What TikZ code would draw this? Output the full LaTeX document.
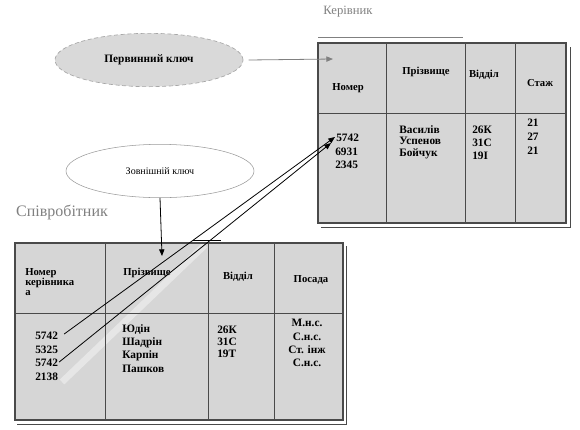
\documentclass[tikz,border=0pt]{standalone}
\usepackage{fontspec}
\setmainfont{Liberation Serif}
\usetikzlibrary{positioning, calc, arrows.meta, shapes.geometric}
\definecolor{Cell}{HTML}{D6D6D6}
\definecolor{Rule}{HTML}{4A4A4A}
\definecolor{Caption}{HTML}{808080}
\definecolor{KeyFill}{HTML}{D9D9D9}
\definecolor{Stripe}{HTML}{E6E6E6}
\tikzset{
    tablebox/.style={draw=Rule, line width=1.3pt},
    gridline/.style={draw=Rule, line width=0.6pt},
    celltext/.style={font=\bfseries\fontsize{8.5}{10}\selectfont, align=left, inner sep=0pt},
    headtext/.style={celltext, align=center, font=\bfseries\fontsize{8}{9.5}\selectfont},
    keynode/.style={ellipse, minimum width=141pt, minimum height=40pt, inner sep=0pt},
    caption/.style={text=Caption, inner sep=0pt},
    linkarrow/.style={-{Triangle[length=5pt, width=4pt]}, line width=0.6pt},
}

\begin{document}
\begin{tikzpicture}[x=0.75pt, y=-0.75pt]
    \useasboundingbox (0,0) rectangle (580,429);

    % Ключі
    \node[keynode, fill=KeyFill, draw=gray!70, line width=0.5pt, densely dashed, font=\bfseries\fontsize{8.5}{10}\selectfont] (pk) at (149,60) {Первинний ключ};
    \node[keynode, draw=gray!80, line width=0.4pt, font=\fontsize{7.5}{9}\selectfont] (fk) at (160,171) {Зовнішній ключ};

    % Підписи таблиць
    \node[caption, font=\fontsize{9.5}{11}\selectfont] (mgrTitle) at (348,12) {Керівник};
    \node[caption, font=\fontsize{12}{14}\selectfont] (empTitle) at (62,212) {Співробітник};

    % Таблиця "Керівник"
    \fill[Cell] (318,43) rectangle (566,223);
    \draw[gridline] (318,113) -- (566,113);
    \foreach \x in {386,465,515} \draw[gridline] (\x,43) -- (\x,223);
    \draw[tablebox] (318,43) rectangle (566,223);
    \draw[Rule, line width=0.6pt] (321,227) -- (570,227) -- (570,47);
    \draw[Caption, line width=0.5pt] (318,37) -- (463,37);

    \node[headtext] (mgrH1) at (348,88) {Номер};
    \node[headtext] (mgrH2) at (426,72) {Прізвище};
    \node[headtext] (mgrH3) at (484,75) {Відділ};
    \node[headtext] (mgrH4) at (540,83) {Стаж};

    \node[celltext, anchor=west] (mgrA) at (336,138) {5742};
    \node[celltext, anchor=west] (mgrB) at (335,152) {6931};
    \node[celltext, anchor=west] (mgrC) at (335,165) {2345};
    \node[celltext, anchor=north west, font=\bfseries\fontsize{8.5}{8.8}\selectfont] (mgrNames) at (399,125) {Василів\\Успенов\\Бойчук};
    \node[celltext, anchor=north west, font=\bfseries\fontsize{8.5}{9.6}\selectfont] (mgrDept) at (472,126) {26К\\31С\\19І};
    \node[celltext, anchor=north west, font=\bfseries\fontsize{8.5}{10.5}\selectfont] (mgrYears) at (527,119) {21\\27\\21};

    % Таблиця "Співробітник"
    \fill[Cell] (15,243) rectangle (343,420);
    \draw[Stripe, line width=5pt] (205,245) -- (62,382);
    \draw[gridline] (15,313) -- (343,313);
    \foreach \x in {105,208,274} \draw[gridline] (\x,243) -- (\x,420);
    \draw[tablebox] (15,243) rectangle (343,420);
    \draw[Rule, line width=0.6pt] (17,424) -- (346,424) -- (346,246);

    \node[celltext, anchor=north west, font=\bfseries\fontsize{8}{7.6}\selectfont] (empH1) at (25,268) {Номер\\керівника\\а};
    \node[headtext] (empH2) at (147,273) {Прізвище};
    \node[headtext] (empH3) at (238,277) {Відділ};
    \node[headtext] (empH4) at (311,280) {Посада};

    \node[celltext, anchor=west] (empA) at (35,336) {5742};
    \node[celltext, anchor=west] (empB) at (35,350) {5325};
    \node[celltext, anchor=west] (empC) at (35,363) {5742};
    \node[celltext, anchor=west] (empD) at (35,377) {2138};
    \node[celltext, anchor=north west] (empNames) at (122,324) {Юдін\\Шадрін\\Карпін\\Пашков};
    \node[celltext, anchor=north west, font=\bfseries\fontsize{8.5}{8.8}\selectfont] (empDept) at (217,326) {26К\\31С\\19Т};
    \node[celltext, anchor=north, align=center] (empPost) at (307,319) {М.н.с.\\С.н.с.\\Ст. інж\\С.н.с.};

    % Зв'язки
    \coordinate (pkEnd) at (333,59);
    \coordinate (fkEnd) at (162,256);
    \draw[linkarrow, gray] ([xshift=4pt]pk.east) -- (pkEnd);
    \draw[linkarrow] (fk.south) -- (fkEnd);
    \draw[linkarrow] ($(empA.east)+(6,-2)$) -- ($(mgrA.west)+(-1,-1)$);
    \draw[linkarrow] ($(empC.east)+(1,-1)$) -- ($(mgrA.west)+(-5,5)$);
    \draw[line width=0.6pt] (193,240) -- (221,240);
\end{tikzpicture}
\end{document}
